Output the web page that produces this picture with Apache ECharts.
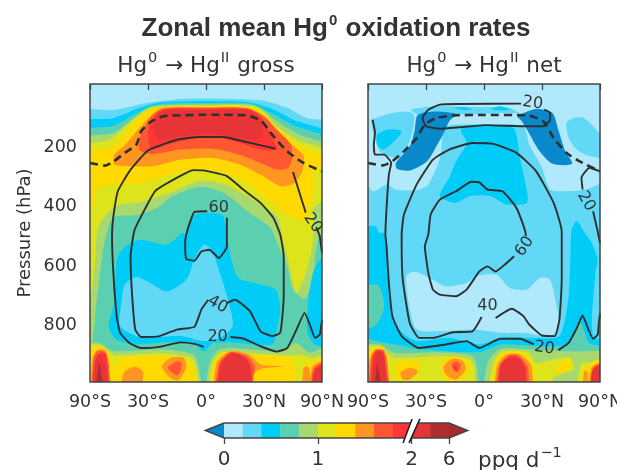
<!DOCTYPE html>
<html><head><meta charset="utf-8">
<style>html,body{margin:0;padding:0;background:#fff}#c{width:617px;height:470px}</style>
<script src="https://cdn.jsdelivr.net/npm/echarts@6/dist/echarts.min.js"></script>
</head><body><div id="c"></div>
<script>
// colour levels: 0..2 in 0.2 steps, then 2..4, 4..6 ppq/d
const levelColors = ['#b0e9fb','#60d8f6','#00ccf8','#5bd0b0','#a7d96e','#dde41c','#ffd900','#ff9622','#ff5732','#ff3636','#e63437','#b12c2f'];
const underColor = '#0a88cc';
const overColor = '#a82a2c';
const latTicks = {'-100':'90°S','-50':'30°S','0':'0°','50':'30°N','100':'90°N'};
const pressureTicks = [200,400,600,800];
const colorbarTicks = {0:'0',5:'1',10:'2',12:'6'};

// x = 100*sin(lat), y = pressure (hPa). Each entry: [level, outline]
const grossFill = [
[1,[[-100,97],[-80,88],[-51,64],[-22,50],[21,50],[50,56],[70,80],[87,115],[100,136],[100,1000],[-100,1000]]],
[2,[[-100,136],[-80,115],[-57,80],[-40,62],[0,58],[35,60],[55,80],[75,120],[100,184],[100,1000],[-100,1000]]],
[3,[[-100,168],[-80,140],[-57,92],[-40,68],[0,64],[38,66],[55,95],[75,138],[100,207],[100,1000],[-100,1000]]],
[4,[[-100,192],[-80,165],[-60,108],[-47,75],[0,69],[42,72],[61,125],[78,165],[100,231],[100,1000],[-100,1000]]],
[5,[[-100,220],[-83,187],[-63,120],[-47,80],[0,72],[44,78],[61,142],[78,187],[100,248],[100,1000],[-100,1000]]],
[6,[[-100,248],[-80,209],[-63,136],[-47,85],[0,75],[45,84],[64,158],[81,209],[100,281],[100,1000],[-100,1000]]],
[7,[[-79,237],[-71,209],[-60,159],[-48,108],[-38,80],[0,78],[35,80],[48,108],[61,164],[76,209],[84,242],[83,293],[76,332],[64,343],[47,304],[29,270],[6,248],[-22,254],[-46,276],[-66,276],[-79,270]]],
[8,[[-58,192],[-54,153],[-47,108],[-36,82],[0,80],[36,82],[50,108],[61,153],[73,203],[74,248],[71,281],[61,287],[47,265],[29,237],[6,217],[-22,220],[-46,235],[-57,223]]],
[9,[[-49,203],[-50,159],[-44,108],[-36,85],[0,83],[36,85],[48,114],[55,164],[61,220],[47,220],[29,198],[12,181],[-8,181],[-28,198],[-47,220]]],
[10,[[-45,147],[-43,108],[-36,90],[0,88],[36,90],[47,114],[49,159],[44,187],[29,181],[12,170],[-11,170],[-28,181],[-41,187]]],
[5,[[-98.5,634],[-98,416],[-93,348],[-80,337],[-57,332],[-40,315],[-22,295],[-5,285],[15,298],[35,332],[55,393],[70,438],[84,460],[90,410],[93,337],[93,293],[100,287],[100,1000],[-98.5,1000]]],
[4,[[-95,560],[-92,470],[-78,410],[-55,395],[-28,360],[-5,325],[15,335],[35,375],[61,445],[66,520],[70,578],[78,701],[84,657],[90,578],[93,500],[93,416],[100,382],[100,1000],[-95,1000]]],
[3,[[-96,800],[-92,657],[-88,540],[-80,449],[-60,440],[-42,415],[-28,375],[-5,345],[15,365],[35,425],[55,480],[62,540],[70,610],[75,690],[85,720],[93,650],[94,570],[99,505],[100,1000],[-96,1000]]],
[2,[[-10,438],[5,432],[15,443],[18,505],[18,511],[22,590],[28,651],[47,673],[60,690],[64,757],[61,824],[57,874],[29,869],[6,869],[-2,897],[-11,869],[-37,867],[-57,874],[-77,858],[-84,813],[-79,735],[-77,590],[-71,550],[-57,523],[-34,539],[-20,500],[-17,505],[-12,449]]],
[2,[[100,540],[93,625],[87,824],[94,874],[100,880]]],
[1,[[-2,539],[5,556],[12,634],[19,723],[23,813],[12,852],[-2,863],[-22,846],[-57,849],[-74,813],[-73,735],[-70,673],[-60,648],[-48,668],[-34,696],[-17,657],[-10,590]]],
[4,[[-100,880],[-92,869],[-80,896],[-37,891],[-11,908],[-6,958],[-6,1000],[-100,1000]]],
[4,[[3,1000],[3,936],[12,891],[35,889],[64,897],[78,869],[85,891],[90,902],[100,874],[100,1000]]],
[5,[[-100,885],[-92,875],[-84,897],[-79,911],[-37,904],[-13,919],[-8,958],[-8,1000],[-100,1000]]],
[5,[[5,1000],[5,941],[13,902],[41,904],[73,911],[81,908],[93,919],[100,897],[100,1000]]],
[6,[[-100,915],[-95,888],[-90,880],[-84,905],[-80,950],[-80,1000],[-100,1000]]],
[6,[[-78,1000],[-78,947],[-71,919],[-37,913],[-17,927],[-10,964],[-11,1000]]],
[6,[[7,1000],[7,947],[15,900],[41,911],[73,919],[77,958],[73,1000]]],
[6,[[84,1000],[84,941],[90,936],[93,930],[100,919],[100,1000]]],
[7,[[-98,1000],[-98,925],[-94,893],[-87,893],[-84,936],[-83,1000]]],
[7,[[-72,1000],[-71,969],[-61,949],[-54,969],[-60,1000]]],
[7,[[-38,947],[-30,919],[-19,919],[-17,952],[-24,994],[-31,986]]],
[7,[[9,1000],[9,936],[21,897],[37,908],[47,941],[67,947],[47,956],[40,980],[38,1000]]],
[7,[[84,1000],[84,952],[89,952],[90,1000]]],
[7,[[92,1000],[92,947],[100,925],[100,1000]]],
[8,[[-97,1000],[-97,919],[-93,897],[-87,900],[-84,936],[-84,1000]]],
[8,[[-33,952],[-25,930],[-21,936],[-22,964],[-25,978]]],
[8,[[10,1000],[11,941],[21,900],[35,913],[42,947],[41,980],[37,1000]]],
[8,[[93,1000],[93,952],[100,930],[100,1000]]],
[9,[[-97,1000],[-96,930],[-92,905],[-87,905],[-85,947],[-85,1000]]],
[9,[[11,1000],[12,941],[22,902],[34,919],[39,952],[37,1000]]],
[10,[[-96,1000],[-95,930],[-92,908],[-86,952],[-85,1000]]],
[10,[[12,1000],[14,936],[24,905],[34,919],[38,958],[35,1000]]],
[10,[[93,1000],[94,958],[100,936],[100,1000]]],
[11,[[-95,1000],[-92,936],[-89,1000]]]
];

const netFill = [
[1,[[-100,276],[-96,360],[-84,337],[-76,354],[-58,356],[-48,337],[-38,248],[-34,147],[-24,136],[16,136],[34,142],[39,203],[50,281],[57,354],[71,360],[88,354],[100,326],[100,1000],[-100,1000]]],
[1,[[-63,86],[-41,75],[-10,77],[22,80],[31,97],[45,86],[45,94],[-56,103]]],
[2,[[-27,80],[-18,78],[-10,84],[-18,87]]],
[2,[[6,84],[14,75],[22,86],[14,88]]],
[1,[[-97,120],[-79,97],[-64,94],[-60,108],[-64,192],[-74,248],[-82,242],[-90,226],[-94,181],[-97,136]]],
[2,[[-92,170],[-82,153],[-71,159],[-79,198],[-87,220],[-92,203]]],
[1,[[71,131],[77,114],[86,114],[98,159],[100,248],[91,242],[80,220],[73,181]]],
[-1,[[-60,159],[-57,103],[-41,92],[-24,101],[-30,125],[-34,159],[-41,209],[-49,259],[-64,290],[-75,284],[-76,265],[-64,209]]],
[-1,[[29,108],[45,84],[59,97],[64,153],[70,226],[76,268],[59,268],[48,226],[38,159],[32,122]]],
[2,[[-20,153],[-7,142],[25,147],[31,248],[37,360],[37,399],[19,404],[5,376],[-12,376],[-25,399],[-38,376],[-30,315],[-24,259],[-15,198]]],
[0,[[-67,645],[-60,629],[-44,657],[-33,679],[-15,668],[-7,645],[11,640],[22,684],[37,690],[48,651],[57,657],[62,735],[65,813],[57,846],[34,835],[16,835],[-10,824],[-38,830],[-58,824],[-64,757]]],
[2,[[-100,488],[-94,477],[-90,499],[-85,500],[-83,590],[-79,791],[-67,846],[-56,863],[-30,852],[-4,874],[14,852],[45,852],[65,846],[73,712],[75,511],[76,483],[80,460],[86,494],[93,534],[98,590],[96,634],[94,846],[100,869],[100,1000],[-100,1000]]],
[3,[[-100,701],[-92,673],[-86,746],[-94,813],[-99,813]]],
[3,[[-100,863],[-77,874],[-56,889],[-4,900],[14,874],[45,878],[71,874],[83,802],[91,869],[100,891],[100,1000],[-100,1000]]],
[4,[[-100,885],[-90,874],[-77,902],[-35,900],[-10,913],[-6,958],[-8,1000],[-100,1000]]],
[4,[[3,1000],[3,936],[14,890],[37,890],[71,897],[86,897],[100,902],[100,1000]]],
[5,[[-100,890],[-90,880],[-83,905],[-76,919],[-35,913],[-12,925],[-8,964],[-10,1000],[-100,1000]]],
[5,[[6,1000],[8,936],[16,898],[38,900],[45,936],[54,930],[74,919],[77,958],[62,980],[45,1000]]],
[5,[[81,1000],[84,936],[91,936],[100,919],[100,1000]]],
[6,[[-100,920],[-95,893],[-88,882],[-84,900],[-82,969],[-82,1000],[-100,1000]]],
[6,[[-77,980],[-76,947],[-69,930],[-57,936],[-56,958],[-60,986],[-73,992]]],
[6,[[-37,958],[-34,930],[-25,913],[-15,930],[-12,964],[-20,992],[-25,1000],[-33,986]]],
[6,[[9,1000],[9,947],[18,903],[34,905],[42,947],[44,1000]]],
[6,[[62,958],[68,930],[75,925],[75,952],[65,975]]],
[6,[[85,1000],[85,958],[90,958],[91,935],[100,922],[100,1000]]],
[7,[[-99,1000],[-98,919],[-94,891],[-86,893],[-83,936],[-83,1000]]],
[7,[[-72,969],[-64,952],[-57,964],[-64,992],[-70,992]]],
[7,[[-35,947],[-27,922],[-18,930],[-16,958],[-24,992],[-33,975]]],
[7,[[11,1000],[11,947],[19,908],[31,908],[41,947],[39,1000]]],
[7,[[86,1000],[86,964],[89,964],[90,1000]]],
[7,[[92,1000],[93,950],[100,930],[100,1000]]],
[8,[[-98,1000],[-97,915],[-93,893],[-87,895],[-84,936],[-83,1000]]],
[8,[[-28,941],[-24,930],[-20,941],[-22,964],[-25,964]]],
[8,[[12,1000],[13,947],[22,910],[30,912],[38,955],[36,1000]]],
[8,[[94,1000],[94,952],[100,936],[100,1000]]],
[9,[[-97,1000],[-96,925],[-93,895],[-87,898],[-85,947],[-84,1000]]],
[9,[[-27,952],[-24,941],[-23,964],[-26,958]]],
[9,[[14,1000],[14,947],[22,914],[31,920],[36,958],[35,1000]]],
[10,[[-96,1000],[-95,930],[-91,900],[-87,905],[-85,958],[-84,1000]]],
[10,[[15,1000],[15,941],[24,917],[31,925],[36,964],[33,1000]]],
[10,[[94,1000],[94,958],[100,941],[100,1000]]],
[11,[[-94,1000],[-92,936],[-88,1000]]]
];

const grossContours = [
[[60,217],[32,192],[15,178],[-5,178],[-25,187],[-50,223],[-66,293],[-76,360],[-80,449],[-81,505],[-81,511],[-80,623],[-77,779],[-74,835],[-66,869],[-56,886],[-40,882],[-22,867],[-10,872],[-2,882]],
[[21,849],[32,854],[47,880],[61,898],[70,886],[78,824],[85,768],[90,813],[94,852],[98,841],[100,791]],
[[75,295],[86,432]],
[[95,480],[98,510],[100,567]],
[[2,724],[-4,757],[-10,815],[-25,824],[-40,846],[-56,849],[-61,824],[-64,690],[-65,578],[-62,495],[-58,460],[-44,360],[-28,321],[-11,289],[-2,290],[18,309],[32,354],[47,399],[58,449],[64,505],[67,578],[67,712],[64,835],[57,846],[47,830],[38,763],[25,724],[18,735]],
[[1,427],[-10,429],[-14,466],[-17,505],[-18,534],[-17,587],[-10,593],[-4,562],[3,556],[11,584],[18,545],[18,500],[18,449]]
];
const netContours = [
[[32,66],[-21,67],[-38,69],[-48,86],[-53,114],[-50,142],[-38,150],[-21,145],[1,138],[37,142],[51,142],[57,120],[57,97],[52,86]],
[[-96,120],[-94,164],[-95,203],[-94,237],[-86,237],[-80,265],[-82,304],[-84,416],[-85,505],[-84,545],[-82,668],[-79,779],[-71,846],[-56,886],[-33,874],[-15,863],[-4,886],[14,855],[31,855],[43,874]],
[[64,893],[73,869],[80,819],[85,777],[90,824],[94,855],[98,841],[99,802],[100,770]],
[[100,293],[91,281],[84,315],[85,354]],
[[94,427],[98,494],[100,534]],
[[10,785],[24,754],[34,779],[39,807],[50,844],[61,846],[65,791],[67,657],[67,545],[67,494],[60,399],[45,293],[28,231],[8,201],[-10,198],[-30,220],[-44,254],[-58,337],[-69,438],[-71,505],[-71,534],[-70,657],[-64,802],[-56,852],[-44,852],[-27,833],[-10,830],[-2,782]],
[[26,578],[18,606],[10,629],[3,612],[-4,629],[-15,690],[-24,712],[-38,707],[-44,690],[-48,634],[-51,545],[-48,505],[-46,438],[-38,388],[-24,360],[-11,328],[-4,330],[3,354],[16,360],[28,416],[36,505],[36,510]]
];
const grossTropopause = [[-100,265],[-87,274],[-80,261],[-70,231],[-60,203],[-56,159],[-47,125],[-37,108],[-22,105],[0,103],[35,105],[48,125],[57,170],[70,226],[84,265],[100,293]];
const netTropopause = [[-100,265],[-87,273],[-79,259],[-69,226],[-58,181],[-51,136],[-41,114],[-24,105],[0,104],[37,105],[51,125],[60,181],[71,231],[85,265],[100,293]];
// [x, pressure, text, clockwise degrees]
const grossLabels = [[11,416,'60',0],[10,740,'40',30],[10,849,'20',0],[92,466,'20',55]];
const netLabels = [[42,64,'20',8],[88,393,'20',60],[35,545,'60',-55],[3,744,'40',0],[52,886,'20',8]];

const FONT = 'DejaVu Sans', INK = '#333', EDGE = '#444';
const bleed = p => [p[0] <= -98.5 ? -112 : p[0] >= 100 ? 112 : p[0], p[1] >= 1000 ? 1060 : p[1]];

function fillSeries(layers, g) {
  return {
    type:'custom', xAxisIndex:g, yAxisIndex:g, clip:true, silent:true, z:1, animation:false,
    data: layers.map((l,i)=>[i,0]),
    renderItem(params, api) {
      const l = layers[params.dataIndex];
      return {type:'polygon', shape:{points:l[1].map(p=>api.coord(bleed(p))), smooth:0.25},
        style:{fill:l[0]<0?underColor:levelColors[l[0]], stroke:null}};
    }
  };
}
function baseSeries(g) {
  return {type:'custom',xAxisIndex:g,yAxisIndex:g,clip:true,silent:true,z:0,animation:false,data:[[0,0]],
    renderItem(p,api){const a=api.coord([-100,0]),b=api.coord([100,1000]);
      return {type:'rect',shape:{x:a[0],y:a[1],width:b[0]-a[0],height:b[1]-a[1]},style:{fill:levelColors[0]}};}};
}
function frameSeries(g) {
  return {type:'custom',xAxisIndex:g,yAxisIndex:g,silent:true,z:6,animation:false,data:[[0,0]],
    renderItem(p,api){const a=api.coord([-100,0]),b=api.coord([100,1000]);
      return {type:'rect',shape:{x:a[0],y:a[1],width:b[0]-a[0],height:b[1]-a[1]},style:{fill:null,stroke:EDGE,lineWidth:1.5}};}};
}
function lineSeries(pts, g, dashed) {
  return {type:'line',xAxisIndex:g,yAxisIndex:g,data:pts,symbol:'none',smooth:dashed?0.2:0.15,z:3,silent:true,animation:false,
    clip:true, lineStyle:{color:'#2f2f2f',width:dashed?2.6:1.9,type:dashed?[8,5]:'solid'}};
}
function labelSeries(labels, g) {
  return {type:'custom',xAxisIndex:g,yAxisIndex:g,silent:true,z:4,animation:false,data:labels.map((l,i)=>[i,0]),
    renderItem(params,api){const l=labels[params.dataIndex],c=api.coord([l[0],l[1]]);
      return {type:'text',x:c[0],y:c[1],rotation:-l[3]*Math.PI/180,
        style:{text:l[2],fontFamily:FONT,fontSize:16,fill:INK,align:'center',verticalAlign:'middle'}};}};
}
const xAx = g => ({type:'value',gridIndex:g,min:-100,max:100,interval:50,
  axisLine:{show:false},splitLine:{show:false},
  axisTick:{show:true,length:6,lineStyle:{color:EDGE,width:1.3}},
  axisLabel:{color:INK,fontFamily:FONT,fontSize:17.5,margin:11,hideOverlap:false,formatter:v=>latTicks[v]}});
const yAx = (g,lab) => ({type:'value',gridIndex:g,min:0,max:1000,interval:200,inverse:true,
  name:lab?'Pressure (hPa)':'',nameLocation:'middle',nameGap:56,nameRotate:90,
  nameTextStyle:{color:INK,fontFamily:FONT,fontSize:18},
  axisLine:{show:false},splitLine:{show:false},minorSplitLine:{show:false},
  axisTick:{show:true,length:6,customValues:pressureTicks,lineStyle:{color:EDGE,width:1.3}},
  minorTick:{show:true,splitNumber:2,length:3.5,lineStyle:{color:EDGE,width:1.1}},
  axisLabel:{show:lab,color:INK,margin:13,customValues:pressureTicks,formatter:v=>'{t|'+v+'}',
    rich:{t:{fontFamily:FONT,fontSize:17.5,color:INK,padding:[7,0,0,0]}}}});

const subRich = {b:{fontFamily:FONT,fontWeight:'normal',fontSize:21.5,color:INK,lineHeight:26,verticalAlign:'bottom'},
                 s:{fontFamily:FONT,fontWeight:'normal',fontSize:14.5,color:INK,lineHeight:26,verticalAlign:'top',padding:[0,1,0,1]}};

// colour bar
const cbSegments = levelColors.map((c,i)=>i);
const cbBreak = [[9.55,-0.33],[10.03,1.27],[10.45,1.27],[9.87,-0.33]];
const option = {
  animation:false,
  backgroundColor:'#fff',
  title:[
    {text:'{m|Zonal mean Hg}{s|0}{m| oxidation rates}',left:331,top:5,textAlign:'center',
     textStyle:{rich:{m:{fontFamily:'Liberation Sans',fontWeight:'bold',fontSize:26,color:INK,lineHeight:32,verticalAlign:'bottom'},
                      s:{fontFamily:'Liberation Sans',fontWeight:'bold',fontSize:15,color:INK,lineHeight:32,verticalAlign:'top',padding:[3,1,0,1]}}}},
    {text:'{b|Hg}{s|0}{b| → Hg}{s|II}{b| gross}',left:201,top:46,textAlign:'center',textStyle:{rich:subRich}},
    {text:'{b|Hg}{s|0}{b| → Hg}{s|II}{b| net}',left:479,top:46,textAlign:'center',textStyle:{rich:subRich}},
    {text:'{b|ppq d}{s|−1}',left:473,top:441,textStyle:{rich:subRich}}
  ],
  grid:[
    {left:90,top:84,width:232,height:298,outerBoundsMode:'none'},
    {left:368,top:84,width:232,height:298,outerBoundsMode:'none'},
    {left:224,top:423,width:225,height:15,outerBoundsMode:'none'}
  ],
  xAxis:[xAx(0),xAx(1),
    {type:'value',gridIndex:2,min:0,max:12,axisLine:{show:false},splitLine:{show:false},
     axisTick:{show:true,length:6,customValues:[0,5,10,12],lineStyle:{color:EDGE,width:1.3}},
     axisLabel:{color:INK,fontFamily:FONT,fontSize:20,margin:12,customValues:[0,5,10,12],formatter:v=>colorbarTicks[v]}}],
  yAxis:[yAx(0,true),yAx(1,false),
    {type:'value',gridIndex:2,min:0,max:1,show:false}],
  series:[
    baseSeries(0),fillSeries(grossFill,0),
    ...grossContours.map(c=>lineSeries(c,0,false)),lineSeries(grossTropopause,0,true),labelSeries(grossLabels,0),frameSeries(0),
    baseSeries(1),fillSeries(netFill,1),
    ...netContours.map(c=>lineSeries(c,1,false)),lineSeries(netTropopause,1,true),labelSeries(netLabels,1),frameSeries(1),
    {type:'custom',xAxisIndex:2,yAxisIndex:2,silent:true,z:1,animation:false,data:cbSegments.map(i=>[i,0]),
     renderItem(params,api){const i=params.dataIndex,a=api.coord([i,1]),b=api.coord([i+1,0]);
       return {type:'rect',shape:{x:a[0],y:a[1],width:b[0]-a[0]+0.5,height:b[1]-a[1]},style:{fill:levelColors[i]}};}},
    {type:'custom',xAxisIndex:2,yAxisIndex:2,silent:true,z:2,animation:false,data:[[0,0]],
     renderItem(p,api){
       const poly=(pts,fill)=>({type:'polygon',shape:{points:pts.map(q=>api.coord(q))},style:{fill,stroke:null}});
       const ln=(q,r)=>({type:'line',shape:{x1:api.coord(q)[0],y1:api.coord(q)[1],x2:api.coord(r)[0],y2:api.coord(r)[1]},style:{stroke:'#222',lineWidth:1.6}});
       return {type:'group',children:[
         poly([[0,0],[0,1],[-1,0.5]],underColor),
         poly([[12,0],[12,1],[13,0.5]],overColor),
         {type:'polygon',shape:{points:[[-1,0.5],[0,1],[12,1],[13,0.5],[12,0],[0,0]].map(q=>api.coord(q))},style:{fill:null,stroke:EDGE,lineWidth:1.4}},
         poly(cbBreak,'#fff'),
         ln(cbBreak[0],cbBreak[1]),ln(cbBreak[3],cbBreak[2])
       ]};
     }}
  ]
};
const chart = echarts.init(document.getElementById('c'),null,{renderer:'canvas'});
chart.setOption(option);
</script></body></html>
